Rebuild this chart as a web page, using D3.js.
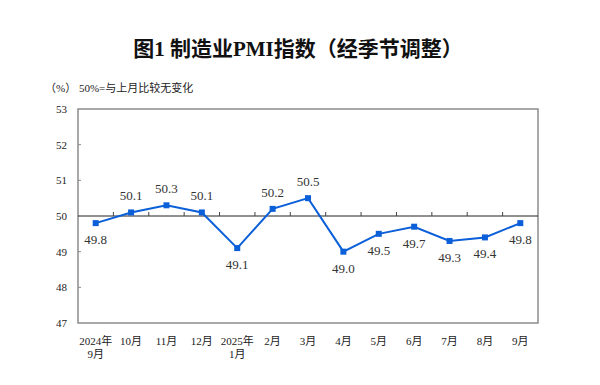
<!DOCTYPE html>
<html>
<head>
<meta charset="utf-8">
<script src="https://cdn.jsdelivr.net/npm/d3@7"></script>
<style>
  body { margin: 0; background: #fff; }
  text { font-family: "Liberation Serif", "Noto Sans CJK SC", serif; }
</style>
</head>
<body>
<div id="chart"></div>
<script>
// month labels (two-line ones split with \n)
var months = ["2024年\n9月", "10月", "11月", "12月", "2025年\n1月", "2月", "3月", "4月", "5月", "6月", "7月", "8月", "9月"];
var pmi = [49.8, 50.1, 50.3, 50.1, 49.1, 50.2, 50.5, 49.0, 49.5, 49.7, 49.3, 49.4, 49.8];
var yTicks = [47, 48, 49, 50, 51, 52, 53];

var W = 600, H = 385;
var pl = 78, pr = 538, pt = 109, pb = 323;

var svg = d3.select("#chart").append("svg")
    .attr("width", W)
    .attr("height", H);

svg.append("text")
    .attr("x", 298).attr("y", 56)
    .attr("text-anchor", "middle")
    .attr("font-size", 21)
    .attr("font-weight", "bold")
    .attr("fill", "#111")
    .text("图1  制造业PMI指数（经季节调整）");

svg.append("text")
    .attr("x", 45).attr("y", 92)
    .attr("font-size", 11)
    .attr("fill", "#222")
    .text("（%） 50%=与上月比较无变化");

var x = d3.scaleBand().domain(d3.range(months.length)).range([pl, pr]);
var y = d3.scaleLinear().domain([47, 53]).range([pb, pt]);

// frame
svg.append("rect")
    .attr("x", pl).attr("y", pt)
    .attr("width", pr - pl).attr("height", pb - pt)
    .attr("fill", "none")
    .attr("stroke", "#8c8c8c")
    .attr("stroke-width", 1.5);

// y axis ticks (inward) and labels
yTicks.forEach(function(t) {
    if (t != 47 && t != 53 && t != 50) {
        svg.append("line")
            .attr("x1", pl).attr("x2", pl + 3)
            .attr("y1", y(t)).attr("y2", y(t))
            .attr("stroke", "#8c8c8c");
    }
    svg.append("text")
        .attr("x", 67).attr("y", y(t) + 4)
        .attr("text-anchor", "end")
        .attr("font-size", 11)
        .attr("fill", "#222")
        .text(t);
});

// 50 line with upward ticks between months
svg.append("line")
    .attr("x1", pl).attr("x2", pr)
    .attr("y1", y(50)).attr("y2", y(50))
    .attr("stroke", "#222")
    .attr("stroke-width", 1);

d3.range(1, months.length).forEach(function(i) {
    var xx = x(i);
    svg.append("line")
        .attr("x1", xx).attr("x2", xx)
        .attr("y1", y(50)).attr("y2", y(50) - 4)
        .attr("stroke", "#444");
});

// x labels
months.forEach(function(m, i) {
    var lines = m.split("\n");
    var t = svg.append("text")
        .attr("x", x(i) + x.bandwidth() / 2)
        .attr("y", 345)
        .attr("text-anchor", "middle")
        .attr("font-size", 11)
        .attr("fill", "#222");
    lines.forEach(function(l, j) {
        t.append("tspan")
            .attr("x", x(i) + x.bandwidth() / 2)
            .attr("dy", j == 0 ? 0 : 13)
            .text(l);
    });
});

var line = d3.line()
    .x(function(d, i) { return x(i) + x.bandwidth() / 2; })
    .y(function(d) { return y(d); });

svg.append("path")
    .datum(pmi)
    .attr("d", line)
    .attr("fill", "none")
    .attr("stroke", "#0b5fd8")
    .attr("stroke-width", 2);

svg.selectAll("rect.pt").data(pmi).enter().append("rect")
    .attr("class", "pt")
    .attr("x", function(d, i) { return x(i) + x.bandwidth() / 2 - 3; })
    .attr("y", function(d) { return y(d) - 3; })
    .attr("width", 6).attr("height", 6)
    .attr("fill", "#0b5fd8");

// data labels: above when over 50, below otherwise
svg.selectAll("text.lbl").data(pmi).enter().append("text")
    .attr("class", "lbl")
    .attr("x", function(d, i) { return x(i) + x.bandwidth() / 2; })
    .attr("y", function(d) { return d > 50 ? y(d) - 12 : y(d) + 21; })
    .attr("text-anchor", "middle")
    .attr("font-size", 13)
    .attr("fill", "#333")
    .text(function(d) { return d.toFixed(1); });
</script>
</body>
</html>
